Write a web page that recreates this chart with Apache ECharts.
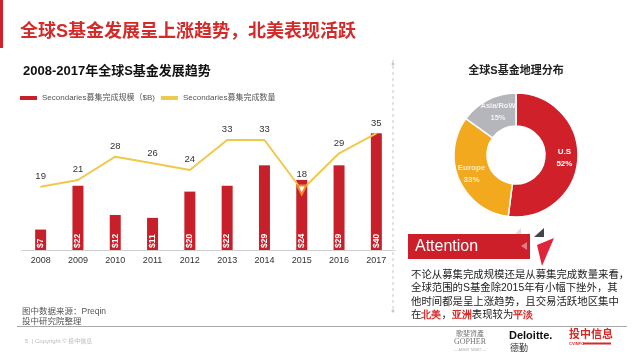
<!DOCTYPE html>
<html><head><meta charset="utf-8">
<script src="https://cdn.jsdelivr.net/npm/echarts@6/dist/echarts.min.js"></script>
<style>html,body{margin:0;padding:0;background:#fff}#c{width:640px;height:360px}</style>
</head><body><div id="c"></div>
<script>
var years = ['2008','2009','2010','2011','2012','2013','2014','2015','2016','2017'];
var fundSize = [7,22,12,11,20,22,29,24,29,40];
var fundCount = [19,21,28,26,24,33,33,18,29,35];
var geoNames = ['U.S','Europe','Asia/RoW'];
var geoShare = [52,33,15];
var seriesNames = ['Secondaries募集完成规模（$B)','Secondaries募集完成数量'];

var FF = '"Liberation Sans","Noto Sans CJK SC",sans-serif';
var RED = '#C8202A';
var chart = echarts.init(document.getElementById('c'), null, {renderer:'canvas'});

var countData = fundCount.map(function(v,i){
  if (years[i]==='2015') return {value:v, symbol:'emptyTriangle', symbolSize:9, symbolRotate:180, itemStyle:{color:'#F08A2A',borderColor:'#F08A2A'}};
  return v;
});

chart.setOption({
  animation:false,
  textStyle:{fontFamily:FF},
  legend:{
    left:20, top:94, padding:0, itemWidth:17, itemHeight:4, itemGap:6,
    textStyle:{fontSize:8,color:'#555',fontFamily:FF},
    data:[{name:seriesNames[0],icon:'rect'},{name:seriesNames[1],icon:'rect',itemStyle:{color:'#EFC94C'}}]
  },
  grid:{left:22, width:373, top:104, height:146},
  xAxis:{type:'category', data:years,
    axisLine:{lineStyle:{color:'#cfcfcf'}}, axisTick:{show:false},
    axisLabel:{fontSize:9, color:'#333', margin:6}},
  yAxis:[
    {type:'value', min:0, max:50, show:false, splitLine:{show:false}},
    {type:'value', min:0, max:43.8, show:false, splitLine:{show:false}}
  ],
  series:[
    {name:seriesNames[0], type:'bar', data:fundSize, barWidth:11, yAxisIndex:0,
     itemStyle:{color:RED},
     label:{show:true, position:'insideBottom', rotate:90, align:'left', verticalAlign:'middle', distance:2,
       formatter:function(p){return '$'+p.value;}, color:'#fff', fontSize:8.5, fontWeight:'bold'}},
    {name:seriesNames[1], type:'line', data:countData, yAxisIndex:1, symbol:'circle', symbolSize:1, showSymbol:true, z:5,
     lineStyle:{color:'#EFC94C', width:2}, itemStyle:{color:'#EFC94C'},
     label:{show:true, position:'top', distance:5, color:'#333', fontSize:9.5}},
    {type:'pie', center:[516,155], radius:[29,62], startAngle:90, clockwise:true,
     itemStyle:{borderColor:'#fff', borderWidth:1.5},
     label:{show:true, position:'inside', formatter:'{b}\n{d}%', color:'#fff', fontSize:8, fontWeight:'bold', lineHeight:12},
     labelLine:{show:false},
     data:[
       {name:geoNames[0], value:geoShare[0], itemStyle:{color:'#D0202A'}},
       {name:geoNames[1], value:geoShare[1], itemStyle:{color:'#F2A91E'}, label:{color:'#FCEBC4'}},
       {name:geoNames[2], value:geoShare[2], itemStyle:{color:'#B5B5BC'}, label:{color:'#F2F2F2', fontSize:7.5, offset:[4,0]}}
     ]}
  ],
  graphic:[
    {type:'rect', shape:{x:0,y:0,width:3,height:48}, style:{fill:'#D0202A'}},
    {type:'text', left:20, top:23, style:{text:'全球S基金发展呈上涨趋势，北美表现活跃', fill:'#D42A2A', font:'bold 18px '+FF}},
    {type:'text', left:23, top:65, style:{text:'2008-2017年全球S基金发展趋势', fill:'#111', font:'bold 13px '+FF}},
    {type:'line', shape:{x1:393,y1:60,x2:393,y2:311}, style:{stroke:'#c8c8c8', lineWidth:1, lineDash:[3,3]}},
    {type:'circle', shape:{cx:393,cy:64,r:1.5}, style:{fill:'#c8c8c8'}},
    {type:'circle', shape:{cx:393,cy:311,r:1.5}, style:{fill:'#c8c8c8'}},
    {type:'text', x:516, y:71, style:{text:'全球S基金地理分布', fill:'#222', font:'bold 11px '+FF, align:'center', verticalAlign:'middle'}},
    {type:'rect', shape:{x:408,y:234,width:122,height:25}, style:{fill:'#CC1F2A'}},
    {type:'polygon', shape:{points:[[521,246],[527,242],[527,250]]}, style:{fill:'#E57A80'}},
    {type:'text', x:415, y:247, style:{text:'Attention', fill:'#fff', font:'16px '+FF, verticalAlign:'middle'}},
    {type:'polygon', shape:{points:[[515,234],[521,228],[521,234]]}, style:{fill:'#dddddd'}},
    {type:'polygon', shape:{points:[[534,237],[544,228],[544,237]]}, style:{fill:'#444'}},
    {type:'polygon', shape:{points:[[537,245],[554,238],[542,266]]}, style:{fill:'#E0253A'}},
    {type:'text', x:411, y:268, style:{
      text:'不论从募集完成规模还是从募集完成数量来看，\n全球范围的S基金除2015年有小幅下挫外，其\n他时间都是呈上涨趋势，且交易活跃地区集中\n在{r|北美}，{r|亚洲}表现较为{r|平淡}',
      fill:'#222', font:'10.4px '+FF, lineHeight:13.5,
      rich:{r:{fill:'#D42A2A', fontWeight:'bold', fontSize:10.4, lineHeight:13.5}}}},
    {type:'text', x:22, y:312, style:{text:'图中数据来源：Preqin', fill:'#555', font:'8.5px '+FF, verticalAlign:'middle'}},
    {type:'text', x:22, y:322, style:{text:'投中研究院整理', fill:'#555', font:'8.5px '+FF, verticalAlign:'middle'}},
    {type:'line', shape:{x1:17,y1:326.5,x2:627,y2:326.5}, style:{stroke:'#aaa', lineWidth:1}},
    {type:'text', x:25, y:341, style:{text:'5  | Copyright © 投中信息', fill:'#bbb', font:'6px '+FF, verticalAlign:'middle'}},
    {type:'text', x:470, y:333, style:{text:'歌斐資產', fill:'#777', font:'7px "Noto Sans CJK TC",serif', align:'center', verticalAlign:'middle'}},
    {type:'text', x:470, y:342, style:{text:'GOPHER', fill:'#777', font:'8px "Liberation Serif",serif', align:'center', verticalAlign:'middle'}},
    {type:'text', x:470, y:350, style:{text:'— ASSET MGMT —', fill:'#aaa', font:'3.5px '+FF, align:'center', verticalAlign:'middle'}},
    {type:'text', x:509, y:336, style:{text:'Deloitte.', fill:'#111', font:'bold 11px '+FF, verticalAlign:'middle'}},
    {type:'text', x:510, y:349, style:{text:'德勤', fill:'#333', font:'9px '+FF, verticalAlign:'middle'}},
    {type:'text', x:569, y:335, style:{text:'投中信息', fill:'#D42A2A', font:'bold 11px '+FF, verticalAlign:'middle'}},
    {type:'text', x:569, y:343.5, style:{text:'CVINFO', fill:'#D42A2A', font:'bold 4px '+FF, verticalAlign:'middle'}},
    {type:'rect', shape:{x:583,y:342.5,width:28,height:2}, style:{fill:'#D42A2A'}}
  ]
});
</script></body></html>
